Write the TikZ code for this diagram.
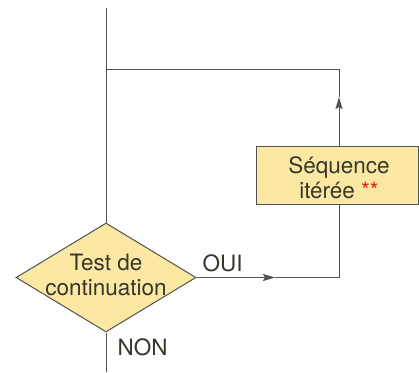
\documentclass[tikz,border=0pt]{standalone}
\usepackage{fontspec}
\setmainfont{TeX Gyre Heros}
\definecolor{flowline}{rgb}{0.32,0.32,0.32}
\definecolor{flowfill}{rgb}{0.98,0.91,0.64}
\definecolor{flowtext}{rgb}{0.22,0.21,0.17}
\definecolor{starred}{rgb}{0.85,0.15,0.10}
\usetikzlibrary{arrows.meta,positioning,shapes.geometric}
\begin{document}
\begin{tikzpicture}[
    x=1pt,y=1pt,
    flow/.style={draw=flowline,line width=1pt},
    headtip/.style={-{Stealth[length=12pt,width=7pt,inset=2pt]}},
    decision/.style={diamond,draw=flowline,line width=1pt,fill=flowfill,
        minimum width=180pt,minimum height=109pt,inner sep=0pt},
    seq/.style={rectangle,draw=flowline,line width=1pt,fill=flowfill,
        minimum width=162pt,minimum height=58pt,inner sep=0pt},
    lbl/.style={font=\fontsize{22.5}{25}\selectfont,text=flowtext,align=center}
  ]
    \useasboundingbox[fill=white] (0,0) rectangle (419,372);
    \coordinate (start) at (106,364);
    \coordinate (stop) at (106,0);
    \node[decision] (test) at (106,94.5) {};
    \node[lbl] (testtxt) at (106,97) {Test de\\continuation};
    \node[seq] (body) at (337.5,196) {};
    \node[lbl] (bodytxt) at (339,194) {Séquence\\itérée \textcolor{starred}{**}};
    \coordinate (loopbr) at (339,94.5);
    \coordinate (looptr) at (339,302);
    \coordinate (back) at (106,302);
    \coordinate (rightmid) at (275,94.5);
    \coordinate (upmid) at (339,275);
    % main flow
    \draw[flow] (start)--(test.north);
    \draw[flow] (test.south)--(stop);
    % loop
    \draw[flow,headtip] (test.east)--(rightmid);
    \draw[flow] (rightmid)--(loopbr)--(body.south -| loopbr);
    \draw[flow,headtip] (body.north -| looptr)--(upmid);
    \draw[flow] (upmid)--(looptr)--(back);
    \node[lbl,anchor=base west] (oui) at (199,101) {OUI};
    \node[lbl,anchor=base west] (non) at (114,17) {NON};
  \end{tikzpicture}
\end{document}
